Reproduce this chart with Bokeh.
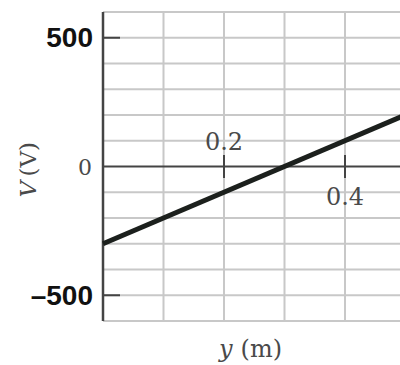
from bokeh.plotting import figure
from bokeh.models import Range1d
from bokeh.core.properties import value
from bokeh.embed import file_html
from bokeh.resources import INLINE
import math

# Potential along the y axis
y_m = [0.0, 0.5]
v_volts = [-300, 200]

# Ticks, tick labels and grid positions
x_tick_vals = [0.2, 0.4]
x_tick_labels = ["0.2", "0.4"]
y_tick_vals = [-500, 500]
y_tick_labels = ["\u2013500", "500"]
x_grid_vals = [0.1, 0.2, 0.3, 0.4]
y_grid_vals = [-600, -500, -400, -300, -200, -100, 100, 200, 300, 400, 500, 600]
v_min, v_max = -600, 600

SERIF = "DejaVu Serif"
TEXT_GRAY = "#4a4a4a"
AXIS_GRAY = "#444444"
GRID_GRAY = "#c8c8c8"

W, H = 400, 365
# pixel layout of the plotting area inside the canvas
LEFT_PX, ZERO_PX = 102.5, 166.0
PX_PER_M = 605.0
PX_PER_V = 0.2575

# The frame covers the whole canvas; the axes are drawn as glyphs so that
# labels placed in the margins are not clipped.
x_range = Range1d(-LEFT_PX / PX_PER_M, (W - LEFT_PX) / PX_PER_M)
y_range = Range1d((ZERO_PX - H) / PX_PER_V, ZERO_PX / PX_PER_V)

p = figure(width=W, height=H, x_range=x_range, y_range=y_range,
           output_backend="svg", toolbar_location=None,
           x_axis_location=None, y_axis_location=None,
           min_border_left=0, min_border_right=0,
           min_border_top=0, min_border_bottom=0)
p.outline_line_color = None
p.background_fill_color = "white"
p.border_fill_color = "white"
for g in p.grid:
    g.visible = False

# Grid
p.segment(x0=x_grid_vals, y0=[v_min] * len(x_grid_vals),
          x1=x_grid_vals, y1=[v_max] * len(x_grid_vals),
          line_color=GRID_GRAY, line_width=2)
p.ray(x=[0] * len(y_grid_vals), y=y_grid_vals, length=0, angle=0,
      line_color=GRID_GRAY, line_width=2)

# Vertical axis with inward ticks at +/-500
p.segment(x0=[0], y0=[v_min], x1=[0], y1=[v_max], line_color=AXIS_GRAY, line_width=2.5)
p.ray(x=[0, 0], y=y_tick_vals, length=17, length_units="screen", angle=0,
      line_color=AXIS_GRAY, line_width=2)

# Horizontal axis through V = 0 with crossing ticks
p.ray(x=[0], y=[0], length=0, angle=0, line_color=AXIS_GRAY, line_width=2)
p.scatter(x=x_tick_vals, y=[0, 0], marker="dash", angle=math.pi / 2, size=23,
          line_color=AXIS_GRAY, line_width=2)

# The potential line
p.line(y_m, v_volts, line_color="#1c201d", line_width=5)

# Vertical axis tick labels
p.text(x=[0, 0], y=y_tick_vals, text=y_tick_labels, x_offset=-10,
       text_align="right", text_baseline="middle",
       text_font=value("Liberation Sans"), text_font_style="bold",
       text_font_size="28px", text_color="#111111")
p.text(x=[0], y=[0], text=["0"], x_offset=-11, text_align="right",
       text_baseline="middle", text_font=value(SERIF), text_font_size="22px",
       text_color=TEXT_GRAY)

# Horizontal axis tick labels: 0.2 above the axis, 0.4 below
p.text(x=[x_tick_vals[0]], y=[0], text=[x_tick_labels[0]], y_offset=-26,
       text_align="center", text_baseline="alphabetic",
       text_font=value(SERIF), text_font_size="24px", text_color=TEXT_GRAY)
p.text(x=[x_tick_vals[1]], y=[0], text=[x_tick_labels[1]], y_offset=20,
       text_align="center", text_baseline="top",
       text_font=value(SERIF), text_font_size="24px", text_color=TEXT_GRAY)

# Axis titles
title_x = 0.244
p.text(x=[title_x], y=[v_min], text=["y"], x_offset=-18, y_offset=28,
       text_align="right", text_baseline="alphabetic",
       text_font=value(SERIF), text_font_style="italic",
       text_font_size="24px", text_color=TEXT_GRAY)
p.text(x=[title_x], y=[v_min], text=["(m)"], x_offset=-10, y_offset=28,
       text_align="left", text_baseline="alphabetic",
       text_font=value(SERIF), text_font_size="24px", text_color=TEXT_GRAY)

title_v = (27 - LEFT_PX) / PX_PER_M
p.text(x=[title_v], y=[0], text=["V"], y_offset=31, angle=math.pi / 2,
       text_align="left", text_baseline="middle",
       text_font=value(SERIF), text_font_style="italic",
       text_font_size="23px", text_color=TEXT_GRAY)
p.text(x=[title_v], y=[0], text=["(V)"], y_offset=10, angle=math.pi / 2,
       text_align="left", text_baseline="middle",
       text_font=value(SERIF), text_font_size="23px", text_color=TEXT_GRAY)

open("out.html", "w").write(file_html(p, INLINE))
